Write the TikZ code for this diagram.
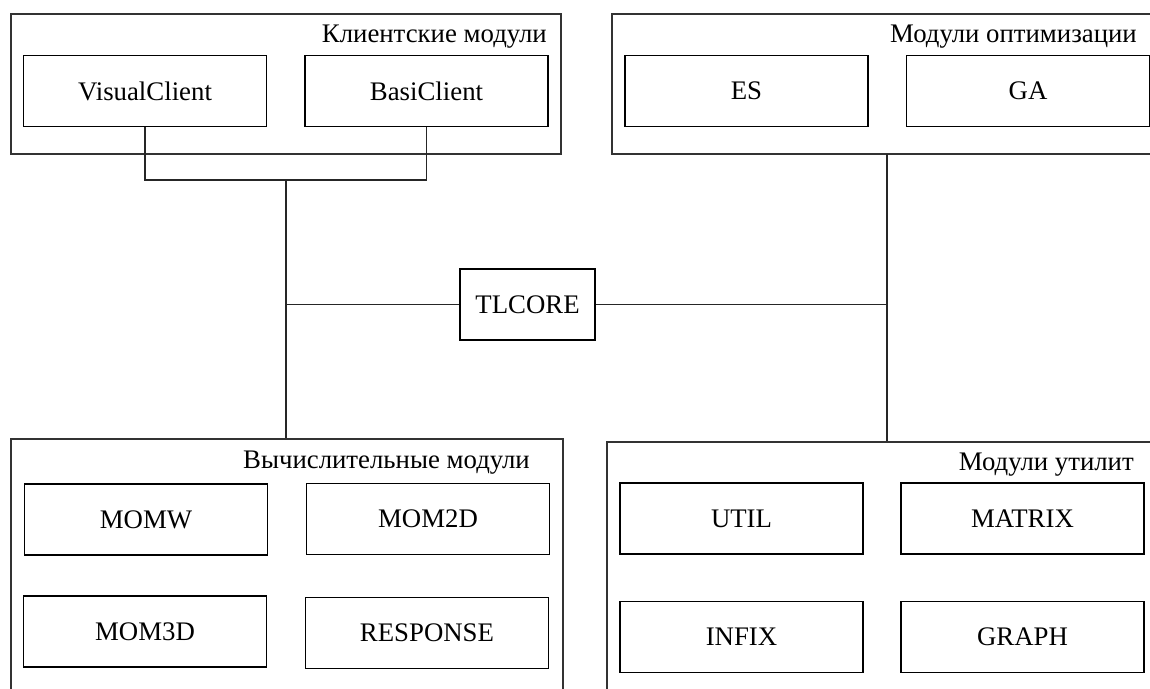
\documentclass[tikz,border=0pt]{standalone}
\usepackage{fontspec}
\setmainfont{Liberation Serif}
\usepackage{tikz}

\begin{document}
\begin{tikzpicture}[x=1pt, y=-1pt,
        modbox/.style={draw, line width=1.3pt, minimum width=243pt, minimum height=71pt, inner sep=0pt},
        grpbox/.style={draw, black!80, line width=1.3pt, inner sep=0pt},
        grptitle/.style={anchor=base east, inner sep=0pt},
        link/.style={line width=1.3pt, black!85}]
        \clip (0,0) rectangle (1150,688);
        \fontsize{26.8}{30}\selectfont
        \node[grpbox, minimum width=550pt, minimum height=140pt] (clients) at (286,84) {};
        \node[grpbox, minimum width=540pt, minimum height=140pt] (optim) at (882,84) {};
        \node[grpbox, minimum width=552pt, minimum height=261pt] (calc) at (287,569.5) {};
        \node[grpbox, minimum width=545pt, minimum height=258pt] (utils) at (879.5,571) {};
        \node[grptitle] (tclients) at (547,42) {Клиентские модули};
        \node[grptitle] (toptim) at (1137,42) {Модули оптимизации};
        \node[grptitle] (tcalc) at (530,468) {Вычислительные модули};
        \node[grptitle] (tutils) at (1134,470) {Модули утилит};
        \node[modbox] (vc) at (145,91) {VisualClient};
        \node[modbox] (bc) at (426.5,91) {BasiClient};
        \node[modbox] (es) at (746.5,91) {ES};
        \node[modbox] (ga) at (1028,91) {GA};
        \node[modbox, minimum width=135pt] (core) at (527.5,304.5) {TLCORE};
        \node[modbox] (momw) at (146,519.5) {MOMW};
        \node[modbox] (mom2d) at (428,519) {MOM2D};
        \node[modbox] (mom3d) at (145,631.5) {MOM3D};
        \node[modbox] (resp) at (427,633) {RESPONSE};
        \node[modbox] (util) at (741.5,518.5) {UTIL};
        \node[modbox] (matrix) at (1022.5,518.5) {MATRIX};
        \node[modbox] (infix) at (741.5,637) {INFIX};
        \node[modbox] (graph) at (1022.5,637) {GRAPH};
        \coordinate (jl) at (286,180);
        \coordinate (jr) at (887,154);
        \draw[link] (vc.south) |- (jl) -| (bc.south);
        \draw[link] (jl) -- (jl |- calc.north);
        \draw[link] (core.west) -- (core.west -| jl);
        \draw[link] (jr) -- (jr |- utils.north);
        \draw[link] (core.east) -- (core.east -| jr);
\end{tikzpicture}
\end{document}
